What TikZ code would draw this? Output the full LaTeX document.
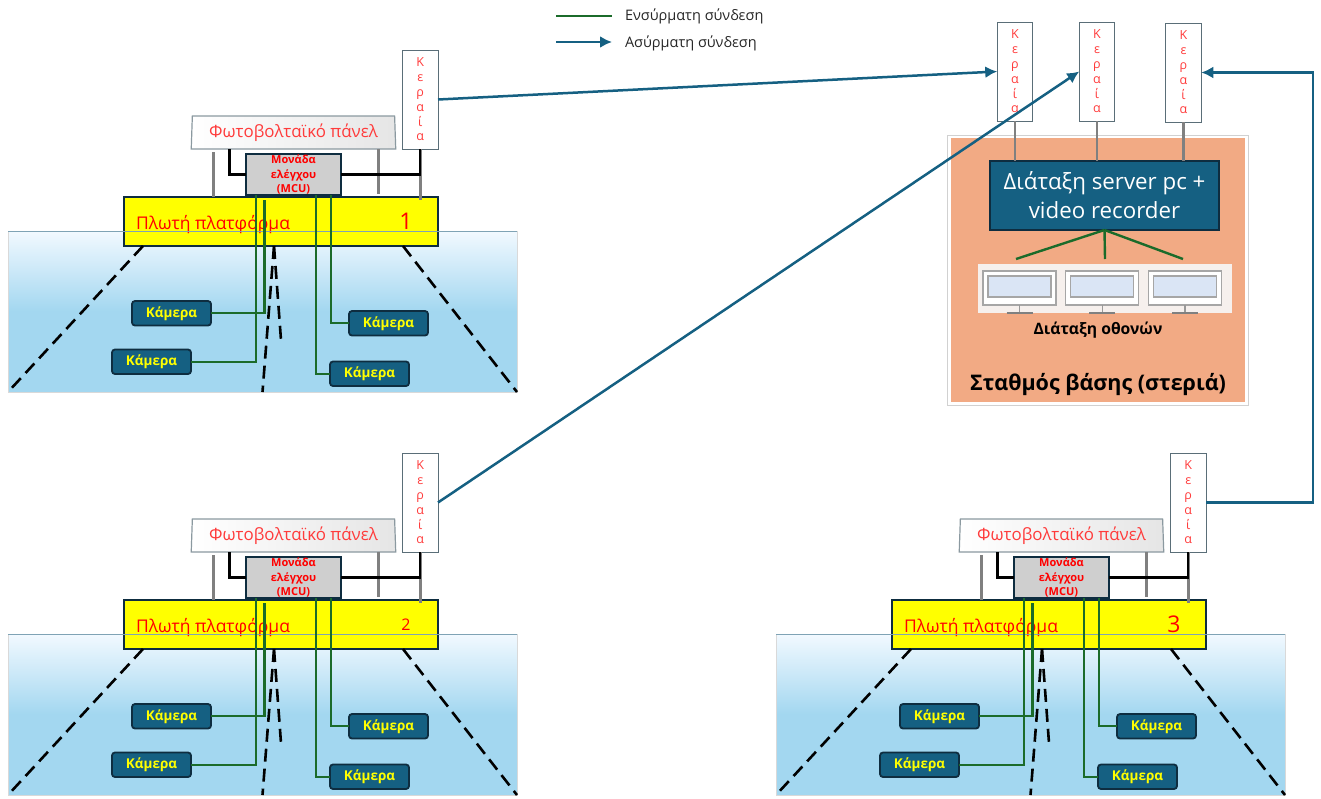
\documentclass[tikz,border=0pt]{standalone}
\usepackage{fontspec}
\setmainfont{Open Sans}
\usetikzlibrary{arrows.meta,calc,positioning,shapes.geometric}
\definecolor{deepblue}{HTML}{156082}
\definecolor{darkedge}{HTML}{0E2D40}
\definecolor{wiregreen}{HTML}{1B6B2A}
\definecolor{softred}{HTML}{FF3B3B}
\definecolor{polegray}{HTML}{808080}
\definecolor{seatop}{HTML}{F2F9FF}
\definecolor{seabottom}{HTML}{A3D7F0}
\definecolor{purered}{HTML}{FF0000}
\definecolor{pureyellow}{HTML}{FFFF00}
\definecolor{basefill}{HTML}{F2AA84}
\definecolor{stripfill}{HTML}{F6F0ED}
\definecolor{glassfill}{HTML}{DAE5F5}
\definecolor{sealine}{HTML}{7FA3B5}
\definecolor{antennaedge}{HTML}{5A6E78}
\tikzset{
    box text/.style = {
        inner sep=0pt,
        outer sep=0pt,
        align=center,
    },
    water/.style = {
        box text,
        draw=black!15,
        line width=0.8pt,
        top color=seatop,
        bottom color=seabottom,
        middle color=seabottom,
        minimum width=509pt,
        minimum height=161pt,
    },
    platform/.style = {
        box text,
        draw=darkedge,
        line width=2.4pt,
        fill=pureyellow,
        minimum width=314pt,
        minimum height=49pt,
    },
    panel/.style = {
        box text,
        trapezium,
        trapezium stretches=true,
        trapezium angle=87,
        draw=antennaedge!70,
        line width=1.2pt,
        left color=white,
        right color=black!10,
        text=softred,
        font=\fontsize{16.9}{18}\selectfont,
        minimum width=205pt,
        minimum height=33pt,
    },
    mcu/.style = {
        box text,
        draw=darkedge,
        line width=1.5pt,
        fill=black!19,
        text=purered,
        font=\bfseries\fontsize{11}{14.5}\selectfont,
        minimum width=95pt,
        minimum height=41pt,
    },
    antenna/.style = {
        box text,
        draw=antennaedge,
        line width=1pt,
        fill=white,
        text=softred,
        font=\fontsize{12.5}{14.8}\selectfont,
        minimum width=35.5pt,
        minimum height=99pt,
    },
    camera/.style = {
        box text,
        draw=darkedge,
        line width=1.8pt,
        rounded corners=3pt,
        fill=deepblue,
        text=pureyellow,
        font=\bfseries\fontsize{13.5}{14}\selectfont,
        minimum width=79pt,
        minimum height=24.5pt,
    },
    wired/.style = {
        draw=wiregreen,
        line width=2.4pt,
    },
    wireless/.style = {
        draw=deepblue,
        line width=2.5pt,
        -{Latex[length=12pt,width=12pt]},
    },
    power/.style = {
        draw=black,
        line width=2.2pt,
    },
    pole/.style = {
        draw=polegray,
        line width=2.5pt,
    },
    beam/.style = {
        draw=black,
        line width=2.6pt,
        dash pattern=on 13pt off 7pt,
    },
    screen/.style = {
        box text,
        draw=black!35,
        line width=1.3pt,
        fill=white,
        minimum width=73pt,
        minimum height=34pt,
    },
    screen glass/.style = {
        box text,
        draw=black!35,
        line width=1.1pt,
        fill=glassfill,
        minimum width=63pt,
        minimum height=21pt,
    },
}

\begin{document}
\begin{tikzpicture}[x=1pt,y=-1pt]
    \useasboundingbox (0,0) rectangle (1321,798);

    \foreach \n/\dx/\dy/\numsize in {1/0/0/23,2/0/403/16,3/768/403/23} {
        \begin{scope}[shift={(\dx,\dy)}]
            \node[water] (sea\n) at (262.5,311.5) {};
            \node[platform] (plat\n) at (281,221.5) {};
            \node[box text, anchor=west, text=purered, font=\fontsize{17.5}{20}\selectfont] (name\n) at (136,224.5) {Πλωτή πλατφόρμα};
            \node[box text, text=purered, font=\fontsize{\numsize}{24}\selectfont] (num\n) at (406,221.5) {\n};
            \draw[draw=sealine, line width=1pt] (sea\n.north west) -- (sea\n.north east);

            \node[mcu, above=2pt of plat\n, xshift=12.5pt] (mcu\n) {Μονάδα\\ελέγχου\\(MCU)};
            \node[panel, above=5pt of mcu\n] (panel\n) {Φωτοβολταϊκό πάνελ};
            \node[antenna, above=48pt of plat\n.north east, anchor=south east] (ant\n) {Κ\\ε\\ρ\\α\\ί\\α};

            \node[camera, below right=55pt and 8pt of plat\n.south west] (cama\n) {Κάμερα};
            \node[camera, below=24pt of cama\n, xshift=-20pt] (camb\n) {Κάμερα};
            \node[camera, below left=65pt and 10pt of plat\n.south east] (camc\n) {Κάμερα};
            \node[camera, below=26pt of camc\n, xshift=-19pt] (camd\n) {Κάμερα};

            \coordinate (beam\n) at (281,340);

            \draw[beam] (plat\n.south west) ++(19,0) -- (sea\n.south west);
            \draw[beam] (plat\n.south east) ++(-35,0) -- (sea\n.south east);
            \draw[beam] (plat\n.south) ++(-7,0) -- (sea\n.south);
            \draw[beam] (plat\n.south) ++(-7,0) -- (beam\n);

            \draw[pole] (panel\n.south) ++(-80,3) -- ++(0,45);
            \draw[pole] (panel\n.south) ++(85,0) -- ++(0,45);
            \draw[pole] (ant\n.south) -- ++(0,51);
            \draw[power] (ant\n.south) |- (mcu\n.east);
            \draw[power] (panel\n.south) ++(-64,0) |- (mcu\n.west);

            \draw[wired] (mcu\n.south west) ++(10,0) |- (camb\n.east);
            \draw[wired] (mcu\n.south west) ++(18.5,5) |- (cama\n.east);
            \draw[wired] (mcu\n.south east) ++(-25,0) |- (camd\n.west);
            \draw[wired] (mcu\n.south east) ++(-10,0) |- (camc\n.west);
        \end{scope}
    }

    \node[box text, draw=black!18, line width=1pt, minimum width=301pt, minimum height=270pt] (frame) at (1097.5,270) {};
    \node[box text, fill=basefill, minimum width=294pt, minimum height=264pt] (base) at (1098,270) {};
    \node[box text, draw=darkedge, line width=2.2pt, fill=deepblue, text=white, font=\fontsize{22.3}{29}\selectfont, minimum width=229pt, minimum height=69pt] (server) at (1104.5,195.5) {Διάταξη server pc +\\video recorder};

    \node[antenna, above=40pt of server.north, xshift=-89.5pt] (antA) {Κ\\ε\\ρ\\α\\ί\\α};
    \node[antenna, above=40pt of server.north, xshift=-7.5pt] (antB) {Κ\\ε\\ρ\\α\\ί\\α};
    \node[antenna, above=39pt of server.north, xshift=79pt] (antC) {Κ\\ε\\ρ\\α\\ί\\α};

    \draw[pole] (antA.south) -- (antA.south |- server.north);
    \draw[pole] (antB.south) -- (antB.south |- server.north);
    \draw[pole] (antC.south) -- (antC.south |- server.north);

    \node[box text, fill=stripfill, minimum width=254pt, minimum height=49pt, below=34pt of server, xshift=0.5pt] (strip) {};

    \foreach \m/\mx in {1/1019.5,2/1102.2,3/1185} {
        \node[screen] (screen\m) at (\mx,288) {};
        \node[screen glass] (glass\m) at (\mx,286.5) {};
        \coordinate[below=8pt of screen\m] (stand\m);
        \draw[draw=black!40, line width=1.2pt] (screen\m.south) -- (stand\m);
        \draw[draw=black!50, line width=1.6pt] ($(stand\m)+(-13,0)$) -- ($(stand\m)+(13,0)$);
    }

    \coordinate (hub) at (server.south);
    \coordinate (wireA) at (1016,259);
    \coordinate (wireB) at (1105,259);
    \coordinate (wireC) at (1183,259);
    \draw[wired] (hub) -- (wireA);
    \draw[wired] (hub) -- (wireB);
    \draw[wired] (hub) -- (wireC);

    \node[box text, font=\bfseries\fontsize{15.7}{17}\selectfont, below=9pt of strip, xshift=-7pt] (screens) {Διάταξη οθονών};
    \node[box text, font=\bfseries\fontsize{21.5}{23}\selectfont] (station) at (1098,385) {Σταθμός βάσης (στεριά)};

    \draw[wireless] (ant1.east) -- (antA.west);
    \draw[wireless] (ant2.east) -- (antB.west);
    \draw[wireless] (ant3.east) -- ++(107,0) |- (antC.east);

    \node[box text, anchor=west, font=\fontsize{14.5}{16}\selectfont, text=black!85] (wiredtext) at (625,16) {Ενσύρματη σύνδεση};
    \node[box text, anchor=west, font=\fontsize{14.5}{16}\selectfont, text=black!85] (wirelesstext) at (625,43) {Ασύρματη σύνδεση};
    \coordinate (wiredstart) at (556,16);
    \coordinate (wiredend) at (612,16);
    \coordinate (wirelessstart) at (556,42);
    \coordinate (wirelessend) at (612,42);
    \draw[wired] (wiredstart) -- (wiredend);
    \draw[wireless] (wirelessstart) -- (wirelessend);
\end{tikzpicture}
\end{document}
